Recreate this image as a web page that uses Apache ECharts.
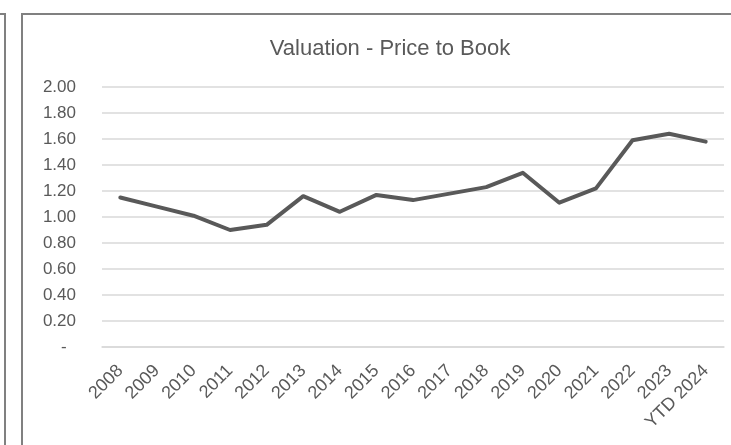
<!DOCTYPE html>
<html>
<head>
<meta charset="utf-8">
<script src="https://cdn.jsdelivr.net/npm/echarts@6/dist/echarts.min.js"></script>
<style>
html,body{margin:0;padding:0;background:#fff;}
#chart{width:731px;height:445px;}
</style>
</head>
<body>
<div id="chart"></div>
<script>
var titleText = 'Valuation - Price to Book';
var categories = ['2008','2009','2010','2011','2012','2013','2014','2015','2016','2017','2018','2019','2020','2021','2022','2023','YTD 2024'];
var priceToBook = [1.15, 1.08, 1.01, 0.90, 0.94, 1.16, 1.04, 1.17, 1.13, 1.18, 1.23, 1.34, 1.11, 1.22, 1.59, 1.64, 1.58];
var yMin = 0, yMax = 2, yStep = 0.2;

var chart = echarts.init(document.getElementById('chart'), null, {renderer: 'canvas'});
var textColor = '#595959';
var fontFam = '"Liberation Sans", Arial, sans-serif';
chart.setOption({
  animation: false,
  backgroundColor: '#ffffff',
  title: {
    text: titleText,
    left: 385, top: 33, textAlign: 'center',
    textStyle: {color: textColor, fontSize: 22, fontWeight: 'normal', fontFamily: fontFam}
  },
  grid: {left: 102, right: 7, top: 87, bottom: 98, containLabel: false},
  xAxis: {
    type: 'category',
    data: categories,
    boundaryGap: true,
    axisLine: {show: true, lineStyle: {color: '#d9d9d9', width: 1.5}},
    axisTick: {show: false},
    axisLabel: {rotate: 45, interval: 0, margin: 21, color: textColor, fontSize: 18, fontFamily: fontFam},
    splitLine: {show: false}
  },
  yAxis: {
    type: 'value',
    min: yMin, max: yMax, interval: yStep,
    axisLine: {show: false},
    axisTick: {show: false},
    axisLabel: {
      margin: 26, color: textColor, fontSize: 17, fontFamily: fontFam,
      formatter: function (v) { return Math.abs(v) < 1e-9 ? '-\u00a0\u00a0' : v.toFixed(2); }
    },
    splitLine: {show: true, lineStyle: {color: '#d9d9d9', width: 1.5}}
  },
  series: [{
    type: 'line',
    data: priceToBook,
    showSymbol: false,
    symbol: 'none',
    lineStyle: {color: '#595959', width: 4, cap: 'round', join: 'round'},
    itemStyle: {color: '#595959'}
  }],
  graphic: [
    {type: 'rect', shape: {x: 22, y: 14, width: 760, height: 500}, style: {fill: 'none', stroke: '#808080', lineWidth: 2}, silent: true},
    {type: 'polyline', shape: {points: [[-5, 14], [5, 14], [5, 460]]}, style: {fill: 'none', stroke: '#808080', lineWidth: 2}, silent: true}
  ]
});
</script>
</body>
</html>
